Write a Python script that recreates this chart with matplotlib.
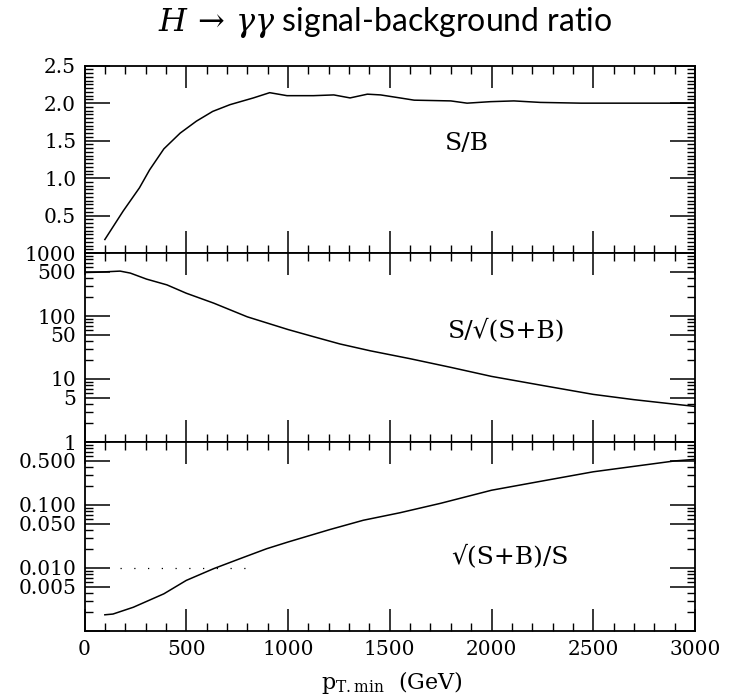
import matplotlib
matplotlib.use("Agg")
import matplotlib.pyplot as plt
from matplotlib.ticker import MultipleLocator, FixedLocator, NullFormatter

plt.rcParams['font.family'] = ['DejaVu Serif']
plt.rcParams['mathtext.fontset'] = 'dejavuserif'

# ---- data ----
sb_x = [100, 190, 270, 320, 390, 470, 550, 630, 715, 830, 910, 995, 1125, 1225,
        1305, 1390, 1455, 1550, 1620, 1800, 1880, 1995, 2110, 2240, 2440, 3000]
sb_y = [0.18, 0.56, 0.87, 1.11, 1.39, 1.60, 1.76, 1.89, 1.98, 2.07, 2.14, 2.10, 2.10, 2.11,
        2.07, 2.12, 2.11, 2.07, 2.04, 2.03, 2.00, 2.02, 2.03, 2.01, 2.00, 2.00]

sig_x = [0, 60, 175, 225, 305, 405, 500, 635, 800, 1000, 1125, 1255, 1405, 1600,
         1800, 2000, 2250, 2500, 2700, 2880, 3000]
sig_y = [490, 495, 516, 480, 385, 312, 230, 160, 97, 61, 47, 36, 28, 21,
         15.3, 11.0, 7.9, 5.7, 4.7, 4.05, 3.67]

inv_x = [100, 140, 240, 390, 500, 635, 765, 895, 1000, 1205, 1370, 1550, 1750,
         2000, 2250, 2500, 2700, 2900, 3000]
inv_y = [0.00179, 0.00184, 0.00236, 0.00386, 0.0063, 0.0097, 0.0140, 0.0201, 0.0257,
         0.0405, 0.057, 0.075, 0.106, 0.171, 0.24, 0.336, 0.41, 0.50, 0.53]

ref_x = [175, 795]
ref_y = [0.01, 0.01]

x_ticks = [0, 500, 1000, 1500, 2000, 2500, 3000]
x_ticklabels = ['0', '500', '1000', '1500', '2000', '2500', '3000']

top_ticks = [0, 0.5, 1.0, 1.5, 2.0, 2.5]
top_labels = ['', '0.5', '1.0', '1.5', '2.0', '2.5']
mid_ticks = [1, 5, 10, 50, 100, 500, 1000]
mid_labels = ['1', '5', '10', '50', '100', '500', '1000']
bot_ticks = [0.001, 0.005, 0.01, 0.05, 0.1, 0.5, 1]
bot_labels = ['', '0.005', '0.010', '0.050', '0.100', '0.500', '']

title = r'$H\,\rightarrow\,\gamma\gamma$ signal-background ratio'
labels = ['S/B', 'S/√(S+B)', '√(S+B)/S']

# ---- figure ----
W, H = 736, 697
fig = plt.figure(figsize=(W / 100, H / 100), dpi=100)

left = 84.5 / W
width = (695 - 84.5) / W
panels = [(65.7, 253.0), (253.0, 442.0), (442.0, 630.7)]
axes = []
for (t, b) in panels:
    ax = fig.add_axes([left, 1 - b / H, width, (b - t) / H])
    axes.append(ax)
ax1, ax2, ax3 = axes

lw = 1.1
ax1.plot(sb_x, sb_y, color='black', lw=lw)
ax2.plot(sig_x, sig_y, color='black', lw=lw)
ax3.plot(inv_x, inv_y, color='black', lw=lw)
ax3.plot(ref_x, ref_y, color='black', lw=0.9, linestyle=(0, (1, 10)))

ax1.set_ylim(0, 2.5)
ax2.set_yscale('log')
ax2.set_ylim(1, 1000)
ax3.set_yscale('log')
ax3.set_ylim(0.001, 1)

ax1.set_yticks(top_ticks, labels=top_labels)
ax1.yaxis.set_minor_locator(MultipleLocator(0.05))
ax2.set_yticks(mid_ticks, labels=mid_labels)
ax3.set_yticks(bot_ticks, labels=bot_labels)
for ax in (ax2, ax3):
    ax.yaxis.set_minor_locator(FixedLocator(
        [m * 10.0 ** e for e in range(-3, 3) for m in (2, 3, 4, 6, 7, 8, 9)]))
    ax.yaxis.set_minor_formatter(NullFormatter())

for ax in axes:
    ax.set_xlim(0, 3000)
    ax.set_xticks(x_ticks)
    ax.xaxis.set_minor_locator(MultipleLocator(100))
    ax.tick_params(which='both', direction='in', top=True, right=True,
                   width=1.1, labelsize=14.5, colors='black')
    ax.tick_params(axis='x', which='major', length=16)
    ax.tick_params(axis='y', which='major', length=18, pad=6)
    ax.tick_params(which='minor', length=6, width=1.0)
    for s in ax.spines.values():
        s.set_linewidth(1.3)
    if ax is not ax3:
        ax.tick_params(axis='x', labelbottom=False)

ax3.set_xticklabels(x_ticklabels)
ax3.tick_params(axis='x', pad=7)

# annotations (placed in figure pixels via axes fraction)
def put(ax, px, py, txt):
    bb = ax.get_position()
    fx = (px / W - bb.x0) / bb.width
    fy = ((1 - py / H) - bb.y0) / bb.height
    ax.text(fx, fy, txt, transform=ax.transAxes, ha='center', va='center', fontsize=18)

put(ax1, 467, 143, labels[0])
put(ax2, 507, 330, labels[1])
put(ax3, 510, 556, labels[2])

fig.text(392 / W, 1 - 682 / H, r'$\mathrm{p}_{\mathrm{T.min}}$  (GeV)', ha='center', va='center',
         fontsize=16)

fig.text(385 / W, 1 - 22 / H, title, ha='center', va='center', fontsize=23,
         family=['Lato', 'DejaVu Sans'], math_fontfamily='dejavuserif')

fig.savefig('out.png', dpi=100)
